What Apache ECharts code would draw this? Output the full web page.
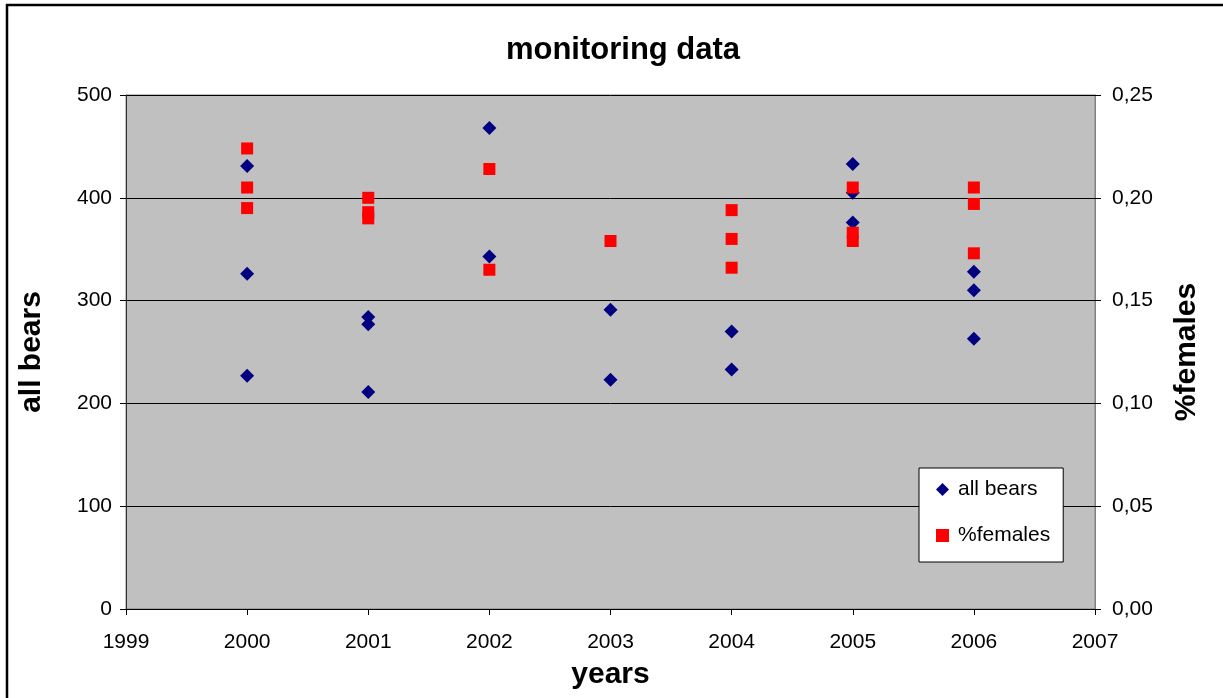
<!DOCTYPE html>
<html>
<head>
<meta charset="utf-8">
<script src="https://cdn.jsdelivr.net/npm/echarts@6/dist/echarts.min.js"></script>
<style>
html,body{margin:0;padding:0;background:#fff;}
#c{width:1223px;height:698px;}
</style>
</head>
<body>
<div id="c"></div>
<script>
// ---- data ----
const titleText = 'monitoring data';
const seriesNames = ['all bears', '%females'];
const bearsYears  = [2000, 2000, 2000, 2001, 2001, 2001, 2002, 2002, 2003, 2003, 2004, 2004, 2005, 2005, 2005, 2006, 2006, 2006];
const bearsValues = [431, 326, 227, 284, 277, 211, 468, 343, 291, 223, 270, 233, 433, 405, 376, 328, 310, 263];
const femalesYears  = [2000, 2000, 2000, 2001, 2001, 2001, 2002, 2002, 2003, 2004, 2004, 2004, 2005, 2005, 2005, 2006, 2006, 2006];
const femalesValues = [0.224, 0.205, 0.195, 0.200, 0.193, 0.190, 0.214, 0.165, 0.179, 0.194, 0.180, 0.166, 0.205, 0.183, 0.179, 0.205, 0.197, 0.173];
const xRange = [1999, 2007];
const leftRange = [0, 500];
const rightRange = [0, 0.25];
const xName = 'years';
const leftName = 'all bears';
const rightName = '%females';

const FONT = '"Liberation Sans", Arial, sans-serif';
const chart = echarts.init(document.getElementById('c'), null, {renderer: 'canvas'});

const bearsData = bearsYears.map((y, i) => [y, bearsValues[i]]);
const femalesData = femalesYears.map((y, i) => [y, femalesValues[i]]);

chart.setOption({
  animation: false,
  backgroundColor: '#ffffff',
  textStyle: {fontFamily: FONT},
  graphic: [{
    type: 'rect',
    shape: {x: 7, y: 5, width: 1400, height: 900},
    style: {fill: 'none', stroke: '#000', lineWidth: 2.5},
    silent: true
  }],
  title: {
    text: titleText,
    left: 618, top: 30,
    textAlign: 'center',
    textStyle: {fontFamily: FONT, fontSize: 31, fontWeight: 'bold', color: '#000'}
  },
  grid: {
    left: 126, right: 128, top: 95, bottom: 89,
    show: true, backgroundColor: '#C0C0C0', borderColor: '#808080', borderWidth: 1
  },
  legend: {
    orient: 'vertical',
    left: 919, top: 468,
    padding: [11, 13, 16, 17],
    itemGap: 25,
    itemWidth: 13, itemHeight: 13,
    backgroundColor: '#ffffff',
    borderColor: '#000', borderWidth: 1,
    textStyle: {fontFamily: FONT, fontSize: 21, color: '#000', padding: [0, 0, 0, 4]},
    data: [{name: seriesNames[0], icon: 'diamond'}, {name: seriesNames[1], icon: 'rect'}]
  },
  xAxis: {
    type: 'value', min: xRange[0], max: xRange[1], interval: 1,
    name: xName, nameLocation: 'middle', nameGap: 51,
    nameTextStyle: {fontFamily: FONT, fontSize: 30, fontWeight: 'bold', color: '#000'},
    axisLine: {show: true, lineStyle: {color: '#000', width: 1}},
    axisTick: {show: true, inside: false, length: 6, lineStyle: {color: '#000'}},
    axisLabel: {margin: 23, fontFamily: FONT, fontSize: 21, color: '#000', formatter: v => String(v)},
    splitLine: {show: false}
  },
  yAxis: [{
    type: 'value', min: leftRange[0], max: leftRange[1], interval: 100, position: 'left',
    name: leftName, nameLocation: 'middle', nameGap: 79, nameRotate: 90,
    nameTextStyle: {fontFamily: FONT, fontSize: 30, fontWeight: 'bold', color: '#000', verticalAlign: 'bottom'},
    axisLine: {show: true, lineStyle: {color: '#333', width: 1}},
    axisTick: {show: true, inside: false, length: 6, lineStyle: {color: '#000'}},
    axisLabel: {margin: 14, fontFamily: FONT, fontSize: 21, color: '#000'},
    splitLine: {show: true, lineStyle: {color: '#000', width: 1}}
  }, {
    type: 'value', min: rightRange[0], max: rightRange[1], interval: 0.05, position: 'right',
    name: rightName, nameLocation: 'middle', nameGap: 77, nameRotate: 90,
    nameTextStyle: {fontFamily: FONT, fontSize: 30, fontWeight: 'bold', color: '#000', verticalAlign: 'top'},
    axisLine: {show: true, lineStyle: {color: '#808080', width: 1}},
    axisTick: {show: true, inside: false, length: 6, lineStyle: {color: '#000'}},
    axisLabel: {margin: 17, fontFamily: FONT, fontSize: 21, color: '#000',
      formatter: v => v.toFixed(2).replace('.', ',')},
    splitLine: {show: false}
  }],
  series: [{
    name: seriesNames[0], type: 'scatter', yAxisIndex: 0,
    symbol: 'diamond', symbolSize: 14,
    itemStyle: {color: '#000080', opacity: 1},
    data: bearsData
  }, {
    name: seriesNames[1], type: 'scatter', yAxisIndex: 1,
    symbol: 'rect', symbolSize: 12,
    itemStyle: {color: '#FF0000', opacity: 1},
    data: femalesData
  }]
});
</script>
</body>
</html>
